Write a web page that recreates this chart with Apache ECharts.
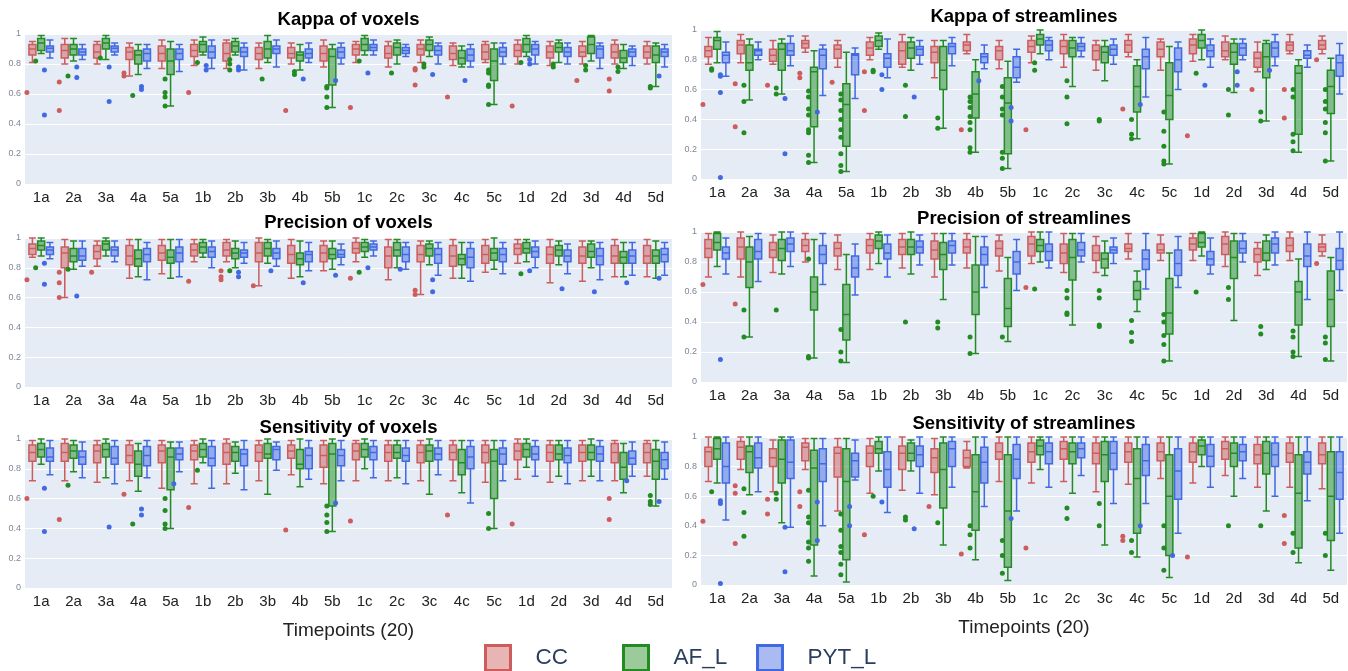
<!DOCTYPE html>
<html>
<head>
<meta charset="utf-8">
<script src="https://cdn.jsdelivr.net/npm/echarts@6/dist/echarts.min.js"></script>
<style>
  html, body { margin: 0; padding: 0; background: #fff; }
  #chart { width: 1348px; height: 671px; }
</style>
</head>
<body>
<div id="chart"></div>
<script>
const timepoints = ['1a','2a','3a','4a','5a','1b','2b','3b','4b','5b','1c','2c','3c','4c','5c','1d','2d','3d','4d','5d'];
const groupNames = ['CC', 'AF_L', 'PYT_L'];

// box stats per timepoint: [min, q1, median, q3, max]
// ---- Kappa of voxels
const kvCC = [[0.81,0.86,0.90,0.93,0.95],[0.80,0.84,0.89,0.93,0.97],[0.80,0.84,0.88,0.93,0.95],[0.72,0.83,0.88,0.91,0.94],[0.77,0.82,0.87,0.92,0.96],
  [0.79,0.85,0.89,0.93,0.96],[0.77,0.82,0.87,0.94,0.96],[0.77,0.83,0.87,0.91,0.94],[0.80,0.84,0.87,0.91,0.94],[0.78,0.82,0.87,0.92,0.96],
  [0.81,0.86,0.90,0.93,0.95],[0.78,0.84,0.87,0.92,0.95],[0.81,0.86,0.90,0.93,0.96],[0.79,0.83,0.87,0.92,0.94],[0.81,0.83,0.88,0.93,0.95],
  [0.80,0.85,0.89,0.93,0.96],[0.79,0.84,0.88,0.92,0.95],[0.80,0.85,0.88,0.92,0.95],[0.80,0.84,0.88,0.93,0.96],[0.80,0.84,0.88,0.92,0.95]];
const kvAF = [[0.87,0.89,0.94,0.97,0.99],[0.82,0.86,0.90,0.93,0.97],[0.83,0.90,0.94,0.97,0.99],[0.73,0.80,0.86,0.89,0.93],[0.52,0.73,0.82,0.90,0.95],
  [0.86,0.88,0.93,0.95,0.98],[0.86,0.88,0.92,0.95,0.97],[0.81,0.84,0.90,0.95,0.99],[0.76,0.82,0.86,0.88,0.93],[0.51,0.66,0.85,0.90,0.93],
  [0.86,0.89,0.93,0.97,0.99],[0.80,0.86,0.91,0.94,0.96],[0.85,0.89,0.93,0.96,0.98],[0.78,0.80,0.84,0.89,0.92],[0.53,0.69,0.82,0.90,0.94],
  [0.85,0.88,0.93,0.97,0.99],[0.81,0.88,0.91,0.94,0.96],[0.82,0.87,0.93,0.98,0.99],[0.77,0.81,0.84,0.89,0.93],[0.65,0.81,0.86,0.92,0.94]];
const kvPYT = [[0.84,0.88,0.905,0.92,0.96],[0.83,0.86,0.88,0.90,0.93],[0.86,0.88,0.905,0.92,0.94],[0.77,0.82,0.87,0.90,0.93],[0.75,0.83,0.87,0.90,0.93],
  [0.77,0.84,0.88,0.92,0.96],[0.76,0.85,0.88,0.91,0.94],[0.78,0.87,0.90,0.92,0.96],[0.81,0.84,0.87,0.90,0.94],[0.80,0.84,0.88,0.91,0.94],
  [0.86,0.89,0.91,0.93,0.96],[0.85,0.87,0.89,0.91,0.93],[0.80,0.86,0.89,0.92,0.94],[0.78,0.82,0.86,0.90,0.93],[0.80,0.85,0.88,0.91,0.94],
  [0.80,0.86,0.90,0.93,0.95],[0.80,0.85,0.88,0.91,0.94],[0.77,0.84,0.90,0.92,0.94],[0.79,0.85,0.88,0.90,0.92],[0.78,0.85,0.88,0.90,0.93]];
// separate points: [timepoint index, value]
const kvCCPts = [[0,0.61],[1,0.68],[1,0.49],[3,0.74],[3,0.72],[5,0.61],[8,0.49],[10,0.51],[12,0.77],[12,0.76],[12,0.66],[13,0.58],[15,0.52],[17,0.69],[18,0.70],[18,0.62]];
const kvAFPts = [[0,0.82],[1,0.72],[2,0.84],[3,0.59],[4,0.70],[4,0.61],[4,0.58],[4,0.52],[5,0.81],[6,0.83],[6,0.80],[6,0.76],[7,0.70],[8,0.75],[8,0.73],
  [9,0.65],[9,0.64],[9,0.58],[9,0.51],[10,0.82],[11,0.74],[12,0.80],[12,0.78],[14,0.76],[14,0.74],[14,0.66],[14,0.65],[14,0.53],[15,0.81],[16,0.80],[16,0.78],
  [17,0.79],[17,0.76],[18,0.78],[18,0.75],[19,0.65],[19,0.64]];
const kvPYTPts = [[0,0.76],[0,0.46],[1,0.78],[1,0.71],[2,0.78],[2,0.55],[3,0.65],[3,0.63],[5,0.79],[5,0.76],[6,0.78],[6,0.76],[8,0.70],[9,0.69],[10,0.74],
  [12,0.73],[13,0.69],[15,0.83],[15,0.80],[19,0.72]];

// ---- Precision of voxels
const pvCC = [[0.87,0.89,0.93,0.96,1.0],[0.60,0.80,0.90,0.94,0.99],[0.81,0.86,0.91,0.95,0.98],[0.73,0.82,0.88,0.95,0.99],[0.76,0.85,0.90,0.95,0.99],
  [0.84,0.88,0.92,0.96,0.99],[0.84,0.88,0.92,0.97,0.99],[0.68,0.84,0.90,0.97,1.0],[0.73,0.83,0.89,0.95,0.99],[0.78,0.84,0.90,0.95,0.98],
  [0.84,0.90,0.93,0.97,1.0],[0.72,0.80,0.88,0.94,0.99],[0.62,0.84,0.89,0.95,0.98],[0.73,0.81,0.88,0.95,0.99],[0.77,0.83,0.89,0.95,0.99],
  [0.83,0.89,0.93,0.96,0.99],[0.70,0.83,0.89,0.94,0.99],[0.71,0.83,0.88,0.94,0.98],[0.74,0.83,0.88,0.95,0.99],[0.74,0.83,0.88,0.95,0.99]];
const pvAF = [[0.88,0.92,0.95,0.98,1.0],[0.79,0.84,0.88,0.93,0.98],[0.88,0.92,0.96,0.98,1.0],[0.74,0.81,0.86,0.92,0.99],[0.73,0.83,0.87,0.92,0.99],
  [0.87,0.90,0.94,0.97,0.99],[0.80,0.86,0.90,0.93,0.98],[0.83,0.88,0.93,0.97,0.99],[0.74,0.82,0.86,0.90,0.98],[0.79,0.86,0.89,0.93,0.98],
  [0.87,0.91,0.94,0.97,0.99],[0.80,0.88,0.92,0.97,0.99],[0.82,0.88,0.93,0.96,0.98],[0.73,0.82,0.86,0.89,0.97],[0.79,0.85,0.90,0.93,1.0],
  [0.84,0.90,0.93,0.97,0.99],[0.82,0.88,0.92,0.95,0.98],[0.80,0.87,0.91,0.96,0.98],[0.74,0.83,0.87,0.91,0.97],[0.73,0.83,0.88,0.92,0.98]];
const pvPYT = [[0.86,0.89,0.92,0.94,0.97],[0.81,0.85,0.88,0.93,0.98],[0.84,0.88,0.92,0.94,0.98],[0.72,0.84,0.89,0.93,0.97],[0.74,0.84,0.90,0.94,0.99],
  [0.80,0.87,0.91,0.94,0.98],[0.83,0.87,0.90,0.92,0.97],[0.81,0.86,0.90,0.93,0.98],[0.78,0.84,0.89,0.91,0.97],[0.82,0.87,0.89,0.92,0.96],
  [0.88,0.92,0.94,0.96,0.98],[0.79,0.84,0.89,0.94,0.97],[0.75,0.83,0.89,0.93,0.97],[0.71,0.80,0.87,0.93,0.97],[0.76,0.84,0.89,0.93,0.97],
  [0.80,0.87,0.91,0.94,0.98],[0.76,0.84,0.88,0.92,0.96],[0.72,0.82,0.88,0.93,0.97],[0.75,0.83,0.88,0.92,0.97],[0.75,0.84,0.89,0.93,0.97]];
const pvCCPts = [[0,0.72],[1,0.77],[1,0.70],[1,0.60],[2,0.77],[5,0.71],[6,0.78],[6,0.74],[6,0.72],[7,0.68],[10,0.73],[12,0.65],[12,0.62]];
const pvAFPts = [[0,0.80],[1,0.79],[6,0.78],[10,0.77],[15,0.76]];
const pvPYTPts = [[0,0.83],[0,0.69],[1,0.61],[6,0.77],[6,0.74],[7,0.78],[8,0.70],[9,0.75],[10,0.80],[11,0.79],[12,0.72],[12,0.64],[15,0.78],[16,0.66],[17,0.64],[18,0.70],[19,0.73]];

// ---- Sensitivity of voxels
const svCC = [[0.72,0.85,0.91,0.96,0.99],[0.72,0.85,0.91,0.97,1.0],[0.71,0.84,0.92,0.96,0.99],[0.72,0.84,0.89,0.96,0.99],[0.67,0.84,0.92,0.96,0.99],
  [0.70,0.86,0.92,0.96,0.99],[0.70,0.83,0.91,0.97,1.0],[0.72,0.85,0.91,0.96,0.99],[0.76,0.87,0.92,0.96,0.99],[0.70,0.81,0.89,0.96,0.99],
  [0.72,0.86,0.92,0.97,0.99],[0.72,0.85,0.91,0.96,0.99],[0.72,0.84,0.91,0.96,0.99],[0.72,0.86,0.91,0.96,0.99],[0.71,0.84,0.91,0.96,0.99],
  [0.73,0.86,0.92,0.97,1.0],[0.71,0.85,0.91,0.96,0.99],[0.72,0.85,0.91,0.96,0.99],[0.72,0.84,0.91,0.97,0.99],[0.75,0.84,0.91,0.97,0.99]];
const svAF = [[0.83,0.88,0.93,0.97,1.0],[0.78,0.87,0.92,0.96,0.99],[0.74,0.88,0.93,0.97,1.0],[0.65,0.75,0.83,0.92,0.97],[0.40,0.66,0.88,0.94,0.98],
  [0.84,0.88,0.93,0.97,1.0],[0.77,0.85,0.91,0.95,0.98],[0.63,0.87,0.90,0.97,1.0],[0.68,0.80,0.83,0.93,1.0],[0.38,0.55,0.90,0.97,1.0],
  [0.80,0.88,0.93,0.97,1.0],[0.74,0.87,0.91,0.96,0.99],[0.63,0.85,0.92,0.96,1.0],[0.64,0.76,0.84,0.93,0.99],[0.40,0.60,0.85,0.93,0.99],
  [0.81,0.88,0.93,0.97,1.0],[0.75,0.86,0.90,0.96,0.99],[0.75,0.86,0.91,0.96,1.0],[0.64,0.73,0.81,0.91,0.97],[0.55,0.73,0.85,0.93,0.99]];
const svPYT = [[0.76,0.85,0.88,0.94,0.99],[0.74,0.83,0.88,0.92,0.98],[0.70,0.83,0.87,0.95,0.99],[0.74,0.82,0.89,0.95,0.99],[0.78,0.86,0.90,0.94,0.98],
  [0.67,0.82,0.87,0.95,0.99],[0.66,0.82,0.90,0.93,0.99],[0.79,0.86,0.93,0.95,0.98],[0.73,0.80,0.89,0.94,0.99],[0.72,0.82,0.89,0.93,0.99],
  [0.74,0.86,0.91,0.95,0.99],[0.70,0.85,0.89,0.94,0.99],[0.76,0.86,0.90,0.94,0.99],[0.57,0.80,0.88,0.95,0.99],[0.72,0.83,0.90,0.94,0.99],
  [0.75,0.86,0.90,0.95,0.99],[0.70,0.84,0.89,0.94,0.99],[0.72,0.85,0.90,0.95,0.99],[0.75,0.83,0.87,0.92,0.98],[0.73,0.80,0.86,0.91,0.98]];
const svCCPts = [[0,0.60],[1,0.46],[3,0.63],[5,0.54],[8,0.39],[10,0.45],[13,0.49],[15,0.43],[18,0.60],[18,0.46]];
const svAFPts = [[1,0.69],[3,0.43],[4,0.60],[4,0.52],[4,0.43],[4,0.40],[5,0.79],[9,0.55],[9,0.49],[9,0.44],[9,0.38],[14,0.50],[14,0.40],[19,0.62],[19,0.58],[19,0.56]];
const svPYTPts = [[0,0.67],[0,0.38],[2,0.41],[3,0.53],[3,0.49],[4,0.70],[9,0.57],[18,0.72],[19,0.58]];

// ---- Kappa of streamlines
const ksCC = [[0.77,0.82,0.86,0.89,0.95],[0.78,0.84,0.90,0.93,0.97],[0.77,0.79,0.83,0.87,0.93],[0.85,0.88,0.91,0.93,0.96],[0.75,0.81,0.87,0.90,0.93],
  [0.80,0.83,0.88,0.92,0.95],[0.75,0.77,0.86,0.92,0.97],[0.68,0.78,0.85,0.89,0.93],[0.84,0.86,0.90,0.92,0.97],[0.74,0.80,0.86,0.89,0.93],
  [0.78,0.85,0.89,0.93,0.96],[0.75,0.84,0.89,0.93,0.97],[0.73,0.80,0.86,0.90,0.93],[0.82,0.85,0.90,0.93,0.97],[0.73,0.82,0.87,0.92,0.94],
  [0.79,0.84,0.90,0.94,0.97],[0.80,0.82,0.86,0.92,0.96],[0.72,0.75,0.81,0.85,0.92],[0.84,0.86,0.90,0.92,0.97],[0.84,0.87,0.90,0.93,0.96]];
const ksAF = [[0.78,0.87,0.93,0.95,0.99],[0.53,0.73,0.78,0.90,0.94],[0.57,0.73,0.87,0.91,0.94],[0.11,0.35,0.72,0.75,0.86],[0.05,0.22,0.50,0.64,0.85],
  [0.87,0.89,0.93,0.96,0.98],[0.73,0.81,0.88,0.92,0.95],[0.34,0.60,0.73,0.89,0.93],[0.18,0.41,0.57,0.72,0.80],[0.07,0.17,0.51,0.68,0.79],
  [0.84,0.90,0.94,0.97,1.0],[0.62,0.82,0.88,0.93,0.95],[0.66,0.78,0.85,0.89,0.93],[0.27,0.45,0.62,0.76,0.80],[0.10,0.40,0.56,0.78,0.89],
  [0.80,0.88,0.93,0.97,1.0],[0.58,0.77,0.85,0.91,0.94],[0.39,0.68,0.82,0.91,0.93],[0.18,0.30,0.71,0.76,0.80],[0.12,0.44,0.62,0.73,0.81]];
const ksPYT = [[0.69,0.78,0.83,0.85,0.92],[0.80,0.83,0.86,0.87,0.92],[0.76,0.83,0.86,0.91,0.96],[0.56,0.74,0.83,0.87,0.90],[0.54,0.70,0.83,0.84,0.88],
  [0.68,0.75,0.81,0.84,0.94],[0.77,0.83,0.87,0.89,0.93],[0.76,0.84,0.89,0.91,0.95],[0.74,0.78,0.82,0.84,0.90],[0.65,0.68,0.75,0.82,0.87],
  [0.80,0.86,0.90,0.93,0.95],[0.82,0.86,0.89,0.91,0.95],[0.77,0.83,0.87,0.90,0.94],[0.55,0.74,0.82,0.87,0.95],[0.60,0.72,0.80,0.88,0.92],
  [0.75,0.82,0.86,0.90,0.94],[0.80,0.83,0.88,0.91,0.94],[0.76,0.82,0.88,0.92,0.97],[0.75,0.81,0.83,0.86,0.90],[0.57,0.69,0.78,0.83,0.91]];
const ksCCPts = [[0,0.50],[1,0.64],[1,0.35],[2,0.63],[3,0.71],[3,0.68],[4,0.65],[5,0.72],[5,0.46],[8,0.33],[10,0.33],[13,0.47],[15,0.29],[17,0.60],[18,0.60],[18,0.41],[19,0.80]];
const ksAFPts = [[0,0.74],[0,0.73],[1,0.63],[1,0.52],[1,0.31],[2,0.61],[2,0.57],[3,0.59],[3,0.55],[3,0.47],[3,0.43],[3,0.33],[3,0.31],[3,0.16],[3,0.11],
  [4,0.57],[4,0.53],[4,0.46],[4,0.40],[4,0.33],[4,0.28],[4,0.17],[4,0.09],[4,0.05],[5,0.73],[5,0.72],[6,0.63],[6,0.42],[7,0.41],[7,0.34],
  [8,0.55],[8,0.52],[8,0.48],[8,0.42],[8,0.38],[8,0.33],[8,0.21],[8,0.18],[9,0.62],[9,0.55],[9,0.47],[9,0.43],[9,0.18],[9,0.14],[9,0.07],
  [10,0.78],[10,0.73],[11,0.66],[11,0.55],[11,0.37],[12,0.40],[12,0.39],[13,0.40],[13,0.30],[13,0.27],[14,0.45],[14,0.32],[14,0.22],[14,0.12],[14,0.10],
  [15,0.71],[16,0.60],[16,0.43],[17,0.45],[17,0.39],[18,0.60],[18,0.55],[18,0.30],[18,0.25],[18,0.19],[19,0.60],[19,0.52],[19,0.47],[19,0.38],[19,0.31],[19,0.12]];
const ksPYTPts = [[0,0.70],[0,0.69],[0,0.58],[0,0.01],[2,0.54],[2,0.17],[3,0.45],[5,0.70],[5,0.60],[6,0.55],[8,0.66],[9,0.48],[9,0.39],[13,0.50],[15,0.63],[16,0.72],[16,0.63],[17,0.73]];

// ---- Precision of streamlines
const psCC = [[0.70,0.83,0.89,0.95,0.99],[0.70,0.82,0.90,0.96,1.0],[0.73,0.83,0.88,0.93,0.98],[0.80,0.87,0.91,0.95,0.99],[0.75,0.84,0.89,0.93,0.98],
  [0.75,0.86,0.91,0.95,0.99],[0.76,0.85,0.90,0.95,0.99],[0.70,0.82,0.88,0.94,0.99],[0.76,0.86,0.90,0.95,0.99],[0.74,0.84,0.89,0.94,0.98],
  [0.79,0.84,0.92,0.97,1.0],[0.73,0.79,0.86,0.92,0.99],[0.73,0.81,0.86,0.91,0.97],[0.82,0.87,0.89,0.92,0.99],[0.81,0.86,0.88,0.92,0.98],
  [0.81,0.88,0.92,0.96,0.99],[0.77,0.85,0.92,0.97,1.0],[0.71,0.80,0.85,0.89,0.93],[0.81,0.87,0.91,0.96,1.0],[0.84,0.87,0.90,0.92,0.98]];
const psAF = [[0.77,0.88,0.93,0.99,1.0],[0.30,0.63,0.80,0.90,0.97],[0.72,0.81,0.89,0.95,1.0],[0.16,0.48,0.60,0.70,0.95],[0.13,0.28,0.45,0.65,0.85],
  [0.79,0.89,0.94,0.98,1.0],[0.72,0.85,0.90,0.95,1.0],[0.55,0.75,0.85,0.93,0.99],[0.19,0.45,0.60,0.78,0.97],[0.27,0.37,0.49,0.69,0.83],
  [0.80,0.87,0.91,0.95,1.0],[0.38,0.68,0.83,0.95,0.99],[0.71,0.76,0.82,0.86,0.94],[0.47,0.55,0.61,0.67,0.74],[0.14,0.32,0.46,0.69,0.86],
  [0.84,0.90,0.93,0.99,1.0],[0.41,0.69,0.83,0.94,0.99],[0.75,0.81,0.86,0.94,0.98],[0.17,0.38,0.60,0.67,0.82],[0.14,0.37,0.55,0.74,0.83]];
const psPYT = [[0.72,0.82,0.86,0.90,0.96],[0.67,0.82,0.87,0.95,0.99],[0.77,0.87,0.92,0.96,1.0],[0.65,0.79,0.85,0.91,0.99],[0.58,0.70,0.76,0.84,0.92],
  [0.70,0.82,0.86,0.92,0.98],[0.78,0.86,0.90,0.94,0.98],[0.78,0.86,0.91,0.94,0.99],[0.63,0.78,0.85,0.90,0.97],[0.61,0.72,0.80,0.87,0.95],
  [0.76,0.81,0.87,0.92,1.0],[0.80,0.84,0.88,0.93,0.99],[0.79,0.86,0.88,0.90,0.96],[0.62,0.75,0.82,0.88,0.99],[0.63,0.71,0.79,0.88,0.97],
  [0.72,0.78,0.82,0.87,0.96],[0.80,0.86,0.89,0.94,0.99],[0.78,0.86,0.92,0.96,1.0],[0.55,0.77,0.84,0.92,1.0],[0.61,0.75,0.81,0.89,1.0]];
const psCCPts = [[0,0.65],[1,0.52],[10,0.63],[19,0.79]];
const psAFPts = [[1,0.48],[1,0.30],[2,0.48],[3,0.82],[3,0.17],[3,0.16],[4,0.35],[4,0.20],[4,0.14],[6,0.40],[7,0.40],[7,0.36],[8,0.30],[8,0.19],[9,0.30],
  [10,0.62],[11,0.61],[11,0.56],[11,0.46],[11,0.45],[12,0.61],[12,0.56],[12,0.38],[12,0.37],[13,0.41],[13,0.33],[13,0.27],
  [14,0.45],[14,0.40],[14,0.31],[14,0.25],[14,0.14],[15,0.60],[16,0.63],[16,0.55],[17,0.37],[17,0.32],[18,0.34],[18,0.30],[18,0.20],[18,0.17],
  [19,0.30],[19,0.26],[19,0.15]];
const psPYTPts = [[0,0.15]];

// ---- Sensitivity of streamlines
const ssCC = [[0.70,0.80,0.90,0.93,1.0],[0.78,0.85,0.93,0.97,1.0],[0.63,0.80,0.86,0.92,0.98],[0.78,0.84,0.93,0.96,0.99],[0.50,0.73,0.89,0.93,0.99],
  [0.62,0.80,0.89,0.94,0.99],[0.64,0.78,0.89,0.94,1.0],[0.61,0.76,0.86,0.92,0.99],[0.79,0.80,0.86,0.91,0.97],[0.70,0.85,0.90,0.96,1.0],
  [0.69,0.83,0.90,0.96,1.0],[0.70,0.85,0.92,0.97,1.0],[0.63,0.82,0.89,0.96,1.0],[0.68,0.83,0.90,0.96,1.0],[0.72,0.84,0.90,0.96,1.0],
  [0.69,0.83,0.90,0.96,1.0],[0.74,0.85,0.92,0.97,1.0],[0.66,0.82,0.88,0.95,1.0],[0.66,0.83,0.89,0.96,1.0],[0.65,0.82,0.88,0.96,1.0]];
const ssAF = [[0.69,0.85,0.92,0.99,1.0],[0.61,0.76,0.90,0.94,1.0],[0.42,0.69,0.85,0.98,1.0],[0.06,0.27,0.79,0.91,0.99],[0.02,0.17,0.70,0.92,0.99],
  [0.77,0.89,0.92,0.97,1.0],[0.77,0.84,0.89,0.96,0.98],[0.27,0.52,0.78,0.96,1.0],[0.17,0.37,0.63,0.88,1.0],[0.03,0.12,0.50,0.88,1.0],
  [0.78,0.88,0.94,0.98,1.0],[0.62,0.82,0.90,0.96,1.0],[0.27,0.70,0.88,0.97,1.0],[0.19,0.35,0.72,0.92,1.0],[0.05,0.20,0.60,0.88,1.0],
  [0.80,0.88,0.94,0.98,1.0],[0.60,0.80,0.89,0.96,1.0],[0.50,0.75,0.89,0.97,1.0],[0.15,0.25,0.62,0.88,1.0],[0.10,0.30,0.60,0.90,1.0]];
const ssPYT = [[0.44,0.69,0.80,0.96,1.0],[0.63,0.79,0.86,0.96,1.0],[0.39,0.72,0.83,0.98,1.0],[0.40,0.70,0.82,0.92,0.99],[0.71,0.73,0.84,0.89,0.98],
  [0.49,0.66,0.78,0.90,1.0],[0.62,0.80,0.88,0.94,1.0],[0.66,0.80,0.92,0.97,1.0],[0.53,0.69,0.83,0.93,1.0],[0.50,0.72,0.85,0.95,1.0],
  [0.66,0.82,0.90,0.96,1.0],[0.74,0.86,0.92,0.96,1.0],[0.55,0.78,0.89,0.97,1.0],[0.55,0.74,0.84,0.95,1.0],[0.35,0.58,0.77,0.92,1.0],
  [0.66,0.80,0.87,0.95,1.0],[0.72,0.84,0.90,0.95,1.0],[0.60,0.80,0.88,0.96,1.0],[0.57,0.75,0.83,0.90,1.0],[0.35,0.58,0.76,0.90,1.0]];
const ssCCPts = [[0,0.43],[1,0.67],[1,0.62],[1,0.28],[2,0.58],[2,0.48],[3,0.63],[3,0.53],[5,0.34],[7,0.53],[8,0.21],[10,0.25],[13,0.33],[13,0.30],[15,0.19],[18,0.47],[18,0.28]];
const ssAFPts = [[0,0.63],[1,0.65],[1,0.49],[1,0.33],[2,0.62],[2,0.58],[3,0.64],[3,0.46],[3,0.42],[3,0.29],[3,0.25],[3,0.16],
  [4,0.48],[4,0.37],[4,0.26],[4,0.22],[4,0.14],[4,0.07],[5,0.60],[6,0.46],[6,0.44],[7,0.42],[8,0.40],[8,0.34],[8,0.25],[9,0.30],[9,0.20],[9,0.08],
  [11,0.52],[11,0.45],[12,0.55],[12,0.40],[13,0.30],[13,0.22],[14,0.40],[14,0.25],[14,0.10],[16,0.40],[17,0.40],[18,0.35],[18,0.22],[19,0.35],[19,0.20]];
const ssPYTPts = [[0,0.57],[0,0.55],[0,0.01],[2,0.39],[2,0.09],[3,0.56],[3,0.30],[4,0.53],[4,0.40],[5,0.56],[6,0.38],[9,0.45],[13,0.40],[14,0.20]];

const lineColors = ['#CD5C5C', '#228B22', '#4169E1'];
const fillColors = ['rgba(205,92,92,0.5)', 'rgba(34,139,34,0.5)', 'rgba(65,105,225,0.5)'];
const FONT = 'Arial, "Liberation Sans", sans-serif';

const panels = [
  { title: 'Kappa of voxels', left: 25, width: 647, top: 34, height: 150, titleTop: 10,
    boxes: [kvCC, kvAF, kvPYT], pts: [kvCCPts, kvAFPts, kvPYTPts] },
  { title: 'Precision of voxels', left: 25, width: 647, top: 238, height: 149, titleTop: 213,
    boxes: [pvCC, pvAF, pvPYT], pts: [pvCCPts, pvAFPts, pvPYTPts] },
  { title: 'Sensitivity of voxels', left: 25, width: 647, top: 439, height: 149, titleTop: 418, axisName: true,
    boxes: [svCC, svAF, svPYT], pts: [svCCPts, svAFPts, svPYTPts] },
  { title: 'Kappa of streamlines', left: 701, width: 646, top: 30, height: 149, titleTop: 7,
    boxes: [ksCC, ksAF, ksPYT], pts: [ksCCPts, ksAFPts, ksPYTPts] },
  { title: 'Precision of streamlines', left: 701, width: 646, top: 232, height: 150, titleTop: 209,
    boxes: [psCC, psAF, psPYT], pts: [psCCPts, psAFPts, psPYTPts] },
  { title: 'Sensitivity of streamlines', left: 701, width: 646, top: 437, height: 148, titleTop: 414, axisName: true,
    boxes: [ssCC, ssAF, ssPYT], pts: [ssCCPts, ssAFPts, ssPYTPts] }
];

const BOX_W = 7;
// same layout rule that echarts uses for several boxplot series in one band
function pointOffset(width, g) {
  const band = width / timepoints.length;
  const avail = band * 0.8 - 2;
  const gap = avail / 3 * 0.3;
  const bw = (avail - gap * 2) / 3;
  const boxCenter = bw / 2 - avail / 2 + g * (gap + bw);
  return (boxCenter - 5.5) / band;
}

const grid = [], xAxis = [], yAxis = [], title = [], series = [];
const n = panels.length;

panels.forEach((p, i) => {
  grid.push({ left: p.left, width: p.width, top: p.top, height: p.height,
    show: true, backgroundColor: '#E5ECF6', borderWidth: 0 });
  title.push({ text: p.title, left: p.left + p.width / 2, top: p.titleTop, textAlign: 'center', padding: 0,
    textStyle: { fontFamily: FONT, fontSize: 18.5, fontWeight: 'bold', color: '#000' } });
  xAxis.push({
    type: 'category', gridIndex: i, data: timepoints,
    axisLine: { show: false }, axisTick: { show: false },
    axisLabel: { interval: 0, fontFamily: FONT, fontSize: 15, color: '#222', margin: 6 },
    name: p.axisName ? 'Timepoints (20)' : '', nameLocation: 'middle', nameGap: 33,
    nameTextStyle: { fontFamily: FONT, fontSize: 19, color: '#222' }
  });
  yAxis.push({
    type: 'value', gridIndex: i, min: 0, max: 1, interval: 0.2,
    axisLine: { show: false }, axisTick: { show: false },
    axisLabel: { fontFamily: FONT, fontSize: 9, color: '#7b8799', margin: 4 },
    splitLine: { lineStyle: { color: '#fff', width: 1 } }
  });
  groupNames.forEach((name, g) => {
    series.push({
      name: name, type: 'boxplot', xAxisIndex: i, yAxisIndex: i,
      boxWidth: [BOX_W, BOX_W],
      itemStyle: { color: fillColors[g], borderColor: lineColors[g], borderWidth: 1.5 },
      emphasis: { disabled: true },
      data: p.boxes[g]
    });
  });
});

// hidden value axes matching the category bands, used for the dots
panels.forEach((p, i) => {
  xAxis.push({ type: 'value', gridIndex: i, min: -0.5, max: timepoints.length - 0.5, show: false });
  groupNames.forEach((name, g) => {
    const off = pointOffset(p.width, g);
    series.push({
      type: 'scatter', xAxisIndex: n + i, yAxisIndex: i,
      symbolSize: 5, itemStyle: { color: lineColors[g], opacity: 1 },
      emphasis: { disabled: true }, z: 3,
      data: p.pts[g].map(d => [d[0] + off, d[1]])
    });
  });
});

const legendLefts = [484, 622, 756];
const legend = groupNames.map((name, g) => ({
  left: legendLefts[g], top: 644, padding: 0, itemWidth: 25, itemHeight: 25, icon: 'rect',
  selectedMode: false,
  data: [{ name: name, itemStyle: { color: fillColors[g].replace('0.5', '0.45'), borderColor: lineColors[g], borderWidth: 3 } }],
  textStyle: { fontFamily: FONT, fontSize: 22.5, color: '#2a3f5f', padding: [0, 0, 0, 20] }
}));

const chart = echarts.init(document.getElementById('chart'));
chart.setOption({
  animation: false,
  backgroundColor: '#fff',
  title, grid, xAxis, yAxis, legend, series
});
</script>
</body>
</html>
